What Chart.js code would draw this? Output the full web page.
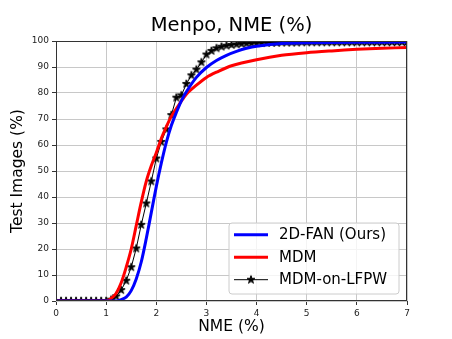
<!DOCTYPE html>
<html>
<head>
<meta charset="utf-8">
<script src="https://cdn.jsdelivr.net/npm/chart.js@4"></script>
<style>
  html,body{margin:0;padding:0;background:#fff;}
  #wrap{width:452px;height:339px;}
</style>
</head>
<body>
<div id="wrap"><canvas id="chart" width="452" height="339"></canvas></div>
<script>
// ===== Data =====
const FAN_X = [0, 1.2, 1.3, 1.4, 1.5, 1.6, 1.7, 1.8, 1.9, 2.0, 2.1, 2.2, 2.3, 2.4, 2.5, 2.6, 2.8, 3.0, 3.2, 3.4, 3.6, 3.8, 4.0, 4.5, 5.0, 6.0, 7.0];
const FAN_Y = [0, 0, 0.5, 1.5, 4, 8.5, 15, 24, 34, 44, 53, 61, 67.5, 72.5, 77, 80.5, 86, 89.8, 92.5, 94.5, 96, 97.2, 98, 99, 99.3, 99.5, 99.6];

const MDM_X = [0, 1.0, 1.1, 1.2, 1.3, 1.4, 1.5, 1.6, 1.7, 1.8, 1.9, 2.0, 2.1, 2.2, 2.3, 2.4, 2.6, 2.8, 3.0, 3.2, 3.5, 4.0, 4.5, 5.0, 5.5, 6.0, 6.5, 7.0];
const MDM_Y = [0, 0, 1, 3, 7, 13, 20, 29, 38, 46, 52, 57, 62.5, 67, 71, 74, 79.5, 83, 86, 88, 90.5, 92.8, 94.5, 95.5, 96.2, 96.8, 97.2, 97.5];

const LFPW_X = [0, 0.1, 0.2, 0.3, 0.4, 0.5, 0.6, 0.7, 0.8, 0.9,
  1.0, 1.1, 1.2, 1.3, 1.4, 1.5, 1.6, 1.7, 1.8, 1.9,
  2.0, 2.1, 2.2, 2.3, 2.4, 2.5, 2.6, 2.7, 2.8, 2.9,
  3.0, 3.1, 3.2, 3.3, 3.4, 3.5, 3.6, 3.7, 3.8, 3.9,
  4.0, 4.1, 4.2, 4.3, 4.4, 4.5, 4.6, 4.7, 4.8, 4.9,
  5.0, 5.1, 5.2, 5.3, 5.4, 5.5, 5.6, 5.7, 5.8, 5.9,
  6.0, 6.1, 6.2, 6.3, 6.4, 6.5, 6.6, 6.7, 6.8, 6.9, 7.0];
const LFPW_Y = [0, 0, 0, 0, 0, 0, 0, 0, 0, 0,
  0, 0.5, 1.8, 4.2, 7.8, 13, 20.2, 29.3, 37.5, 46,
  54.8, 61.2, 66, 71.5, 78.2, 79.1, 83.5, 86.8, 89, 91.8,
  94.8, 96.2, 97.2, 97.8, 98.2, 98.5, 98.7, 98.9, 99.0, 99.1,
  99.2, 99.2, 99.3, 99.3, 99.3, 99.4, 99.4, 99.4, 99.4, 99.5,
  99.5, 99.5, 99.5, 99.5, 99.5, 99.5, 99.5, 99.5, 99.5, 99.5,
  99.5, 99.5, 99.5, 99.5, 99.5, 99.5, 99.5, 99.5, 99.5, 99.5, 99.5];

const LABELS = ["2D-FAN (Ours)", "MDM", "MDM-on-LFPW"];
const COLORS = ["#0000ff", "#ff0000", "#000000"];

function pts(xs, ys){ return xs.map((x,i)=>({ x, y: ys[i] })); }

// filled 5-point star, like matplotlib's '*'
function makeStar(r){
  const s = Math.ceil(r*2 + 3);
  const c = document.createElement("canvas");
  c.width = s; c.height = s;
  const g = c.getContext("2d");
  g.translate(s/2, s/2);
  g.beginPath();
  for(let i=0;i<10;i++){
    const rad = i%2 ? r*0.382 : r;
    const a = -Math.PI/2 + i*Math.PI/5;
    g.lineTo(rad*Math.cos(a), rad*Math.sin(a));
  }
  g.closePath();
  g.fillStyle = "#000"; g.fill();
  g.lineWidth = 1; g.strokeStyle = "#000"; g.stroke();
  return c;
}
const STAR = makeStar(4.2);

Chart.defaults.font.family = "'DejaVu Sans', sans-serif";
Chart.defaults.color = "#222";

// frame around the axes (all four spines)
const framePlugin = {
  id: "frame",
  afterDatasetsDraw(chart){
    const { ctx, chartArea: a } = chart;
    ctx.save();
    ctx.strokeStyle = "#333";
    ctx.lineWidth = 1;
    ctx.strokeRect(Math.round(a.left)+0.5, Math.round(a.top)+0.5, Math.round(a.right-a.left)-1, Math.round(a.bottom-a.top)-1);
    ctx.restore();
  }
};

// legend inside the axes, lower right
const legendPlugin = {
  id: "boxLegend",
  afterDraw(chart){
    const { ctx } = chart;
    const bx = 229, by = 223, bw = 170, bh = 71, r = 3;
    ctx.save();
    ctx.beginPath();
    ctx.moveTo(bx+r, by);
    ctx.arcTo(bx+bw, by, bx+bw, by+bh, r);
    ctx.arcTo(bx+bw, by+bh, bx, by+bh, r);
    ctx.arcTo(bx, by+bh, bx, by, r);
    ctx.arcTo(bx, by, bx+bw, by, r);
    ctx.closePath();
    ctx.fillStyle = "rgba(255,255,255,0.8)";
    ctx.fill();
    ctx.strokeStyle = "#cccccc";
    ctx.lineWidth = 1;
    ctx.stroke();

    const rows = [234.7, 257.3, 279.7];
    chart.data.datasets.forEach((ds, i)=>{
      const y = rows[i];
      ctx.beginPath();
      ctx.moveTo(234, y); ctx.lineTo(268, y);
      ctx.strokeStyle = ds.borderColor;
      ctx.lineWidth = ds.borderWidth;
      ctx.stroke();
      if(ds.pointRadius > 0){
        ctx.drawImage(STAR, 251 - STAR.width/2, y - STAR.height/2);
      }
      ctx.fillStyle = "#000";
      ctx.font = "15px 'DejaVu Sans'";
      ctx.textBaseline = "middle";
      ctx.textAlign = "left";
      ctx.fillText(ds.label, 279, y + 0.5);
    });
    ctx.restore();
  }
};

new Chart(document.getElementById("chart"), {
  type: "line",
  data: {
    datasets: [
      { label: LABELS[0], data: pts(FAN_X, FAN_Y), borderColor: COLORS[0], borderWidth: 3, pointRadius: 0, tension: 0.3, clip: 0 },
      { label: LABELS[1], data: pts(MDM_X, MDM_Y), borderColor: COLORS[1], borderWidth: 3, pointRadius: 0, tension: 0.3, clip: 0 },
      { label: LABELS[2], data: pts(LFPW_X, LFPW_Y), borderColor: COLORS[2], borderWidth: 1, pointRadius: 4, pointHoverRadius: 4,
        pointStyle: STAR, tension: 0, clip: 0 }
    ]
  },
  options: {
    responsive: false,
    animation: false,
    events: [],
    layout: { padding: { left: 0, right: 45, top: 0, bottom: 0 } },
    plugins: {
      legend: { display: false },
      tooltip: { enabled: false },
      title: {
        display: true,
        fullSize: false,
        text: "Menpo, NME (%)",
        color: "#000",
        font: { size: 19.5, weight: "normal", lineHeight: 1.2 },
        padding: { top: 14, bottom: 3.6 }
      }
    },
    scales: {
      x: {
        type: "linear",
        min: 0, max: 7,
        ticks: { stepSize: 1, font: { size: 9 }, color: "#222", padding: 3, maxRotation: 0 },
        grid: { color: "#c8c8c8", lineWidth: 1, tickLength: 4, tickColor: "#333", tickWidth: 1 },
        border: { display: false },
        title: { display: true, text: "NME (%)", color: "#000", font: { size: 15.5 }, padding: { top: 0, bottom: 3 } },
        afterFit(s){ s.height = 38; }
      },
      y: {
        min: 0, max: 100,
        ticks: { stepSize: 10, font: { size: 9 }, color: "#222", padding: 3 },
        grid: { color: "#c8c8c8", lineWidth: 1, tickLength: 4, tickColor: "#333", tickWidth: 1 },
        border: { display: false },
        title: { display: true, text: "Test Images (%)", color: "#000", font: { size: 15.5 }, padding: { top: 9, bottom: 0 } },
        afterFit(s){ s.width = 56; }
      }
    }
  },
  plugins: [framePlugin, legendPlugin]
});
</script>
</body>
</html>
